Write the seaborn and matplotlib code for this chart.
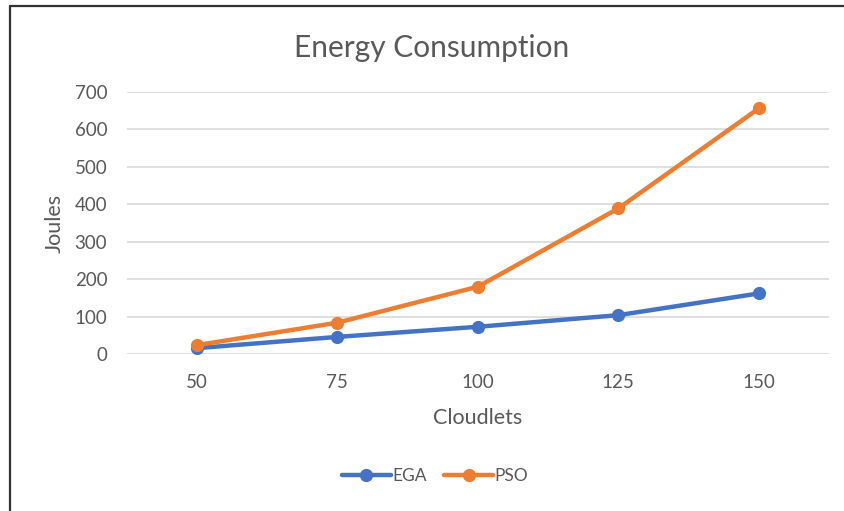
import pandas as pd
import numpy as np
import matplotlib
matplotlib.use('Agg')
import matplotlib.pyplot as plt
import seaborn as sns
from matplotlib.lines import Line2D

# Data
cloudlets = ['50', '75', '100', '125', '150']
ega = [16, 46, 73, 104, 162]
pso = [24, 84, 180, 389, 656]

df = pd.DataFrame({
    'Cloudlets': cloudlets * 2,
    'Joules': ega + pso,
    'Algorithm': ['EGA'] * len(ega) + ['PSO'] * len(pso),
})

sns.set_theme(style='white')
plt.rcParams['font.family'] = ['Lato', 'DejaVu Sans']

grey = '#595959'
palette = {'EGA': '#4472C4', 'PSO': '#ED7D31'}

fig = plt.figure(figsize=(8.45, 5.11), dpi=100)
ax = fig.add_axes([0.150, 0.307, 0.831, 0.513])

sns.lineplot(data=df, x='Cloudlets', y='Joules', hue='Algorithm', palette=palette,
             marker='o', markersize=9.5, markeredgewidth=0, linewidth=3.2,
             sort=False, ax=ax, legend=False)

ax.set_xlim(-0.5, len(cloudlets) - 0.5)
ax.set_ylim(0, 700)
ax.set_yticks(range(0, 701, 100))
ax.grid(axis='y', color='#D9D9D9', linewidth=1.2)
ax.set_axisbelow(True)
for s in ax.spines.values():
    s.set_visible(False)
ax.tick_params(axis='both', length=0, labelsize=13.5, colors=grey)
ax.tick_params(axis='y', pad=14)
ax.tick_params(axis='x', pad=14)

ax.set_xlabel('Cloudlets', fontsize=15.5, color=grey)
ax.set_ylabel('Joules', fontsize=15.5, color=grey)
ax.xaxis.label.set_va('center')
ax.yaxis.label.set_va('center')
ax.xaxis.set_label_coords(0.5, -0.243)
ax.yaxis.set_label_coords(-0.1026, 0.5)
fig.text(0.511, 0.906, 'Energy Consumption', ha='center', va='center', fontsize=21.5, color=grey)

handles = [Line2D([], [], color=palette[k], marker='o', markersize=9.5, linewidth=3.2,
                  markeredgewidth=0) for k in ['EGA', 'PSO']]
fig.legend(handles, ['EGA', 'PSO'], loc='center', bbox_to_anchor=(0.515, 0.068), ncol=2,
           frameon=False, fontsize=12.5, labelcolor=grey, handlelength=2.8,
           handletextpad=0.1, columnspacing=1.0)

# outer chart border (left and top edges visible)
fig.add_artist(Line2D([0.012, 0.012], [0, 0.988], color='#333333', linewidth=1.6,
                      transform=fig.transFigure))
fig.add_artist(Line2D([0.012, 1.0], [0.988, 0.988], color='#333333', linewidth=1.6,
                      transform=fig.transFigure))

fig.savefig('out.png', dpi=100)
